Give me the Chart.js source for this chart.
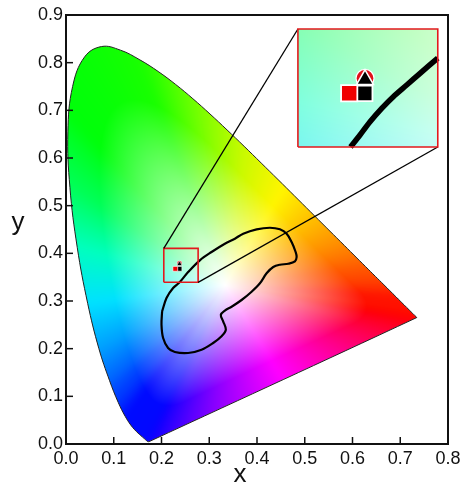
<!DOCTYPE html>
<html><head><meta charset="utf-8">
<script src="https://cdn.jsdelivr.net/npm/chart.js@4.4.1/dist/chart.umd.min.js"></script>
<style>html,body{margin:0;padding:0;background:#fff}canvas{display:block}</style>
</head><body>
<canvas id="c" width="465" height="483" style="width:465px;height:483px"></canvas>
<script>
// CIE 1931 spectral locus
const locusNm=[380,410,420,430,440,450,455,460,465,470,475,480,485,490,495,500,505,510,515,520,525,530,535,540,545,550,555,560,565,570,575,580,585,590,595,600,605,610,620,630,640,650,660,680,700];
const locusX=[0.1741,0.1727,0.1714,0.1689,0.1644,0.1566,0.1510,0.1440,0.1355,0.1241,0.1096,0.0913,0.0687,0.0454,0.0235,0.0082,0.0039,0.0139,0.0389,0.0743,0.1142,0.1547,0.1929,0.2296,0.2658,0.3016,0.3373,0.3731,0.4087,0.4441,0.4788,0.5125,0.5448,0.5752,0.6029,0.6270,0.6482,0.6658,0.6915,0.7079,0.7190,0.7260,0.7300,0.7334,0.7347];
const locusY=[0.0050,0.0048,0.0051,0.0069,0.0109,0.0177,0.0227,0.0297,0.0399,0.0578,0.0868,0.1327,0.2007,0.2950,0.4127,0.5384,0.6548,0.7502,0.8120,0.8338,0.8262,0.8059,0.7816,0.7543,0.7243,0.6923,0.6589,0.6245,0.5896,0.5547,0.5202,0.4866,0.4544,0.4242,0.3965,0.3725,0.3514,0.3340,0.3083,0.2920,0.2809,0.2740,0.2700,0.2666,0.2653];
// closed black contour
const contourX=[0.2013,0.2105,0.2243,0.2384,0.2558,0.2803,0.3048,0.3327,0.3537,0.3711,0.3992,0.4270,0.4480,0.4621,0.4725,0.4809,0.4830,0.4795,0.4654,0.4480,0.4340,0.4201,0.4061,0.3887,0.3677,0.3468,0.3327,0.3243,0.3291,0.3348,0.3258,0.3082,0.2839,0.2558,0.2279,0.2138,0.2034,0.2000];
const contourY=[0.2784,0.3063,0.3272,0.3398,0.3608,0.3854,0.4028,0.4202,0.4307,0.4412,0.4504,0.4537,0.4504,0.4412,0.4237,0.4028,0.3923,0.3833,0.3782,0.3761,0.3713,0.3581,0.3371,0.3195,0.3021,0.2880,0.2800,0.2712,0.2574,0.2398,0.2259,0.2119,0.1978,0.1909,0.1930,0.2014,0.2224,0.2503];
// zoom box and inset (data coordinates)
const boxX=[0.2048,0.2767], boxY=[0.3392,0.4105];
const insetX=[0.4857,0.7786], insetY=[0.6230,0.8706];
// magnified contour inside inset
const insetCurveX=[0.5958,0.6157,0.6367,0.6612,0.6855,0.7136,0.7415,0.7786];
const insetCurveY=[0.6230,0.6482,0.6761,0.7042,0.7286,0.7531,0.7776,0.8097];
// sample points: red square, black square, black triangle, red circle
const mainPtX=[0.2289,0.2377,0.2377,0.2377];
const mainPtY=[0.3675,0.3675,0.3776,0.3795];
const insetPtX=[0.5931,0.6255,0.6262,0.6262];
const insetPtY=[0.7357,0.7357,0.7644,0.7671];
const whitePoint=[0.3333,0.3333];
const xRange=[0,0.8], yRange=[0,0.9], tickStep=0.1;

// colour stops along the locus (nm, r, g, b) and along the purple line (fraction, r, g, b)
const hueStops=[[380,10,0,255],[470,0,10,255],[478,0,75,255],[485,0,160,255],[490,0,225,255],[495,0,255,190],[500,0,255,90],[507,0,255,10],[530,25,255,0],[545,110,255,0],[560,200,250,0],[572,255,245,0],[585,255,170,0],[600,255,90,0],[620,255,20,0],[700,255,0,0]];
const purpleStops=[[0,255,0,0],[0.25,255,0,130],[0.5,255,0,255],[0.75,140,0,255],[1,10,0,255]];

const pts=(xs,ys)=>xs.map((x,i)=>({x:x,y:ys[i]}));
const closed=(xs,ys)=>{const p=pts(xs,ys);p.push(p[0]);return p;};
const rectPts=(xr,yr)=>[{x:xr[0],y:yr[0]},{x:xr[1],y:yr[0]},{x:xr[1],y:yr[1]},{x:xr[0],y:yr[1]},{x:xr[0],y:yr[0]}];
const line=(data,color,w,order,extra)=>Object.assign({data:data,showLine:true,pointRadius:0,borderColor:color,borderWidth:w,fill:false,tension:0,order:order},extra||{});
const mark=(x,y,style,r,color,bw,order)=>({data:[{x:x,y:y}],showLine:false,pointStyle:style,pointRadius:r,pointHoverRadius:r,backgroundColor:color,borderColor:'#ffffff',borderWidth:bw,order:order});

function interpStops(st,v){
 if(v<=st[0][0])return st[0].slice(1);
 for(let i=1;i<st.length;i++){if(v<=st[i][0]){const a=st[i-1],b=st[i],t=(v-a[0])/(b[0]-a[0]);return [1,2,3].map(j=>a[j]+(b[j]-a[j])*t);}}
 return st[st.length-1].slice(1);
}
// radial table: distance from white point to the locus and the locus colour, per direction
const NB=2048, edgeDist=new Float32Array(NB), edgeCol=[];
(function(){
 const n=locusX.length, rawD=new Float32Array(NB), rawC=[];
 for(let b=0;b<NB;b++){
  const ang=b/NB*2*Math.PI-Math.PI,dx=Math.cos(ang),dy=Math.sin(ang);let best=1e9,bk=0,bu=0;
  for(let k=0;k<n;k++){
   const x1=locusX[k],y1=locusY[k],x2=locusX[(k+1)%n],y2=locusY[(k+1)%n];
   const ex=x2-x1,ey=y2-y1,den=dx*ey-dy*ex;if(Math.abs(den)<1e-12)continue;
   const wx=x1-whitePoint[0],wy=y1-whitePoint[1];
   const t=(wx*ey-wy*ex)/den,u=(wx*dy-wy*dx)/den;
   if(t>0&&u>=0&&u<=1&&t<best){best=t;bk=k;bu=u;}
  }
  rawD[b]=best;
  rawC[b]=bk<n-1?interpStops(hueStops,locusNm[bk]+(locusNm[bk+1]-locusNm[bk])*bu):interpStops(purpleStops,bu);
 }
 const RD=40,RC=10;
 for(let b=0;b<NB;b++){
  let sd=0;for(let k=-RD;k<=RD;k++)sd+=rawD[(b+k+NB)%NB];edgeDist[b]=sd/(2*RD+1);
  const c=[0,0,0];for(let k=-RC;k<=RC;k++){const q=rawC[(b+k+NB)%NB];c[0]+=q[0];c[1]+=q[1];c[2]+=q[2];}
  edgeCol[b]=c.map(v=>v/(2*RC+1));
 }
})();
function colorAt(x,y){
 const dx=x-whitePoint[0],dy=y-whitePoint[1];
 const b=Math.round((Math.atan2(dy,dx)+Math.PI)/(2*Math.PI)*NB)%NB;
 const s=Math.sqrt(dx*dx+dy*dy)/edgeDist[b];
 const f=Math.min(1,Math.pow(s/0.8,1.05));
 const e=edgeCol[b];
 return [255-(255-e[0])*f,255-(255-e[1])*f,255-(255-e[2])*f];
}

const fieldPlugin={id:'field',
 beforeDatasetsDraw(chart){
  const ctx=chart.ctx,xs=chart.scales.x,ys=chart.scales.y,ca=chart.chartArea;
  const w=Math.round(ca.right-ca.left),h=Math.round(ca.bottom-ca.top);
  const off=document.createElement('canvas');off.width=w;off.height=h;
  const oc=off.getContext('2d');const img=oc.createImageData(w,h);
  for(let j=0;j<h;j++){const y=ys.getValueForPixel(ca.top+j+0.5);
   for(let i=0;i<w;i++){const x=xs.getValueForPixel(ca.left+i+0.5);
    const c=colorAt(x,y);const k=(j*w+i)*4;img.data[k]=c[0];img.data[k+1]=c[1];img.data[k+2]=c[2];img.data[k+3]=255;}}
  oc.putImageData(img,0,0);
  const locMeta=chart.getDatasetMeta(chart.data.datasets.length-1);
  ctx.save();ctx.beginPath();locMeta.dataset.path(ctx);ctx.closePath();ctx.clip();
  ctx.drawImage(off,ca.left,ca.top);ctx.restore();
  // inset background: magnified colours of the zoom box
  const l=Math.round(xs.getPixelForValue(insetX[0])),r=Math.round(xs.getPixelForValue(insetX[1]));
  const t=Math.round(ys.getPixelForValue(insetY[1])),b=Math.round(ys.getPixelForValue(insetY[0]));
  const iw=r-l,ih=b-t;const off2=document.createElement('canvas');off2.width=iw;off2.height=ih;
  const oc2=off2.getContext('2d');const img2=oc2.createImageData(iw,ih);
  for(let j=0;j<ih;j++){const Y=ys.getValueForPixel(t+j+0.5);const y=boxY[0]+(Y-insetY[0])/(insetY[1]-insetY[0])*(boxY[1]-boxY[0]);
   for(let i=0;i<iw;i++){const X=xs.getValueForPixel(l+i+0.5);const x=boxX[0]+(X-insetX[0])/(insetX[1]-insetX[0])*(boxX[1]-boxX[0]);
    const c=colorAt(x,y);const k=(j*iw+i)*4;img2.data[k]=c[0];img2.data[k+1]=c[1];img2.data[k+2]=c[2];img2.data[k+3]=255;}}
  oc2.putImageData(img2,0,0);ctx.drawImage(off2,l,t);
 },
 afterDraw(chart){
  const ctx=chart.ctx,xs=chart.scales.x,ys=chart.scales.y,ca=chart.chartArea;
  ctx.save();ctx.strokeStyle='#111';ctx.lineWidth=1.5;
  xs.ticks.forEach(tk=>{const p=xs.getPixelForValue(tk.value);ctx.beginPath();ctx.moveTo(p,ca.bottom);ctx.lineTo(p,ca.bottom-7);ctx.stroke();});
  ys.ticks.forEach(tk=>{const p=ys.getPixelForValue(tk.value);ctx.beginPath();ctx.moveTo(ca.left,p);ctx.lineTo(ca.left+7,p);ctx.stroke();});
  ctx.lineWidth=2;ctx.strokeRect(ca.left,ca.top,ca.right-ca.left,ca.bottom-ca.top);
  ctx.fillStyle='#111';ctx.font='26px "Liberation Sans", Arial, sans-serif';ctx.textAlign='center';ctx.textBaseline='alphabetic';
  ctx.fillText('x',240,482);
  ctx.fillText('y',18,230);
  ctx.restore();
 }};

Chart.defaults.font.family='"Liberation Sans", Arial, sans-serif';
Chart.defaults.font.size=18;
Chart.defaults.color='#111';

new Chart(document.getElementById('c'),{
 type:'scatter',
 data:{datasets:[
  line(rectPts(insetX,insetY),'#e3191c',1.6,0),
  mark(insetPtX[0],insetPtY[0],'rect',11.5,'#f00000',1.8,1),
  mark(insetPtX[1],insetPtY[1],'rect',11,'#000000',1.8,2),
  mark(insetPtX[2],insetPtY[2],'triangle',9.8,'#000000',1.5,3),
  mark(insetPtX[3],insetPtY[3],'circle',9,'#e0101a',1.2,4),
  line(pts(insetCurveX,insetCurveY),'#000000',5.5,5,{tension:0.3,borderCapStyle:'butt'}),
  line([{x:boxX[0],y:boxY[1]},{x:insetX[0],y:insetY[1]}],'#000000',1.3,6),
  line([{x:boxX[1],y:boxY[0]},{x:insetX[1],y:insetY[0]}],'#000000',1.3,7),
  line(rectPts(boxX,boxY),'#e3191c',1.6,8),
  mark(mainPtX[0],mainPtY[0],'rect',3.4,'#f00000',0.6,9),
  mark(mainPtX[1],mainPtY[1],'rect',3.4,'#000000',0.6,10),
  mark(mainPtX[2],mainPtY[2],'triangle',3,'#000000',0.5,11),
  mark(mainPtX[3],mainPtY[3],'circle',2.4,'#e0101a',0.5,12),
  line(closed(contourX,contourY),'#000000',2.2,13,{tension:0.35}),
  line(closed(locusX,locusY),'#222222',1,14,{tension:0.4})
 ]},
 options:{responsive:false,animation:false,events:[],
  layout:{padding:{top:15,right:17,left:0,bottom:0}},
  plugins:{legend:{display:false},tooltip:{enabled:false}},
  scales:{
   x:{type:'linear',min:xRange[0],max:xRange[1],grid:{display:false,drawTicks:false},border:{display:false},
      ticks:{stepSize:tickStep,padding:4,maxRotation:0,callback:v=>v.toFixed(1)},afterFit:s=>{s.height=39;}},
   y:{type:'linear',min:yRange[0],max:yRange[1],grid:{display:false,drawTicks:false},border:{display:false},
      ticks:{stepSize:tickStep,padding:3,callback:v=>v.toFixed(1)},afterFit:s=>{s.width=66;}}
  }},
 plugins:[fieldPlugin]
});
</script>
</body></html>
